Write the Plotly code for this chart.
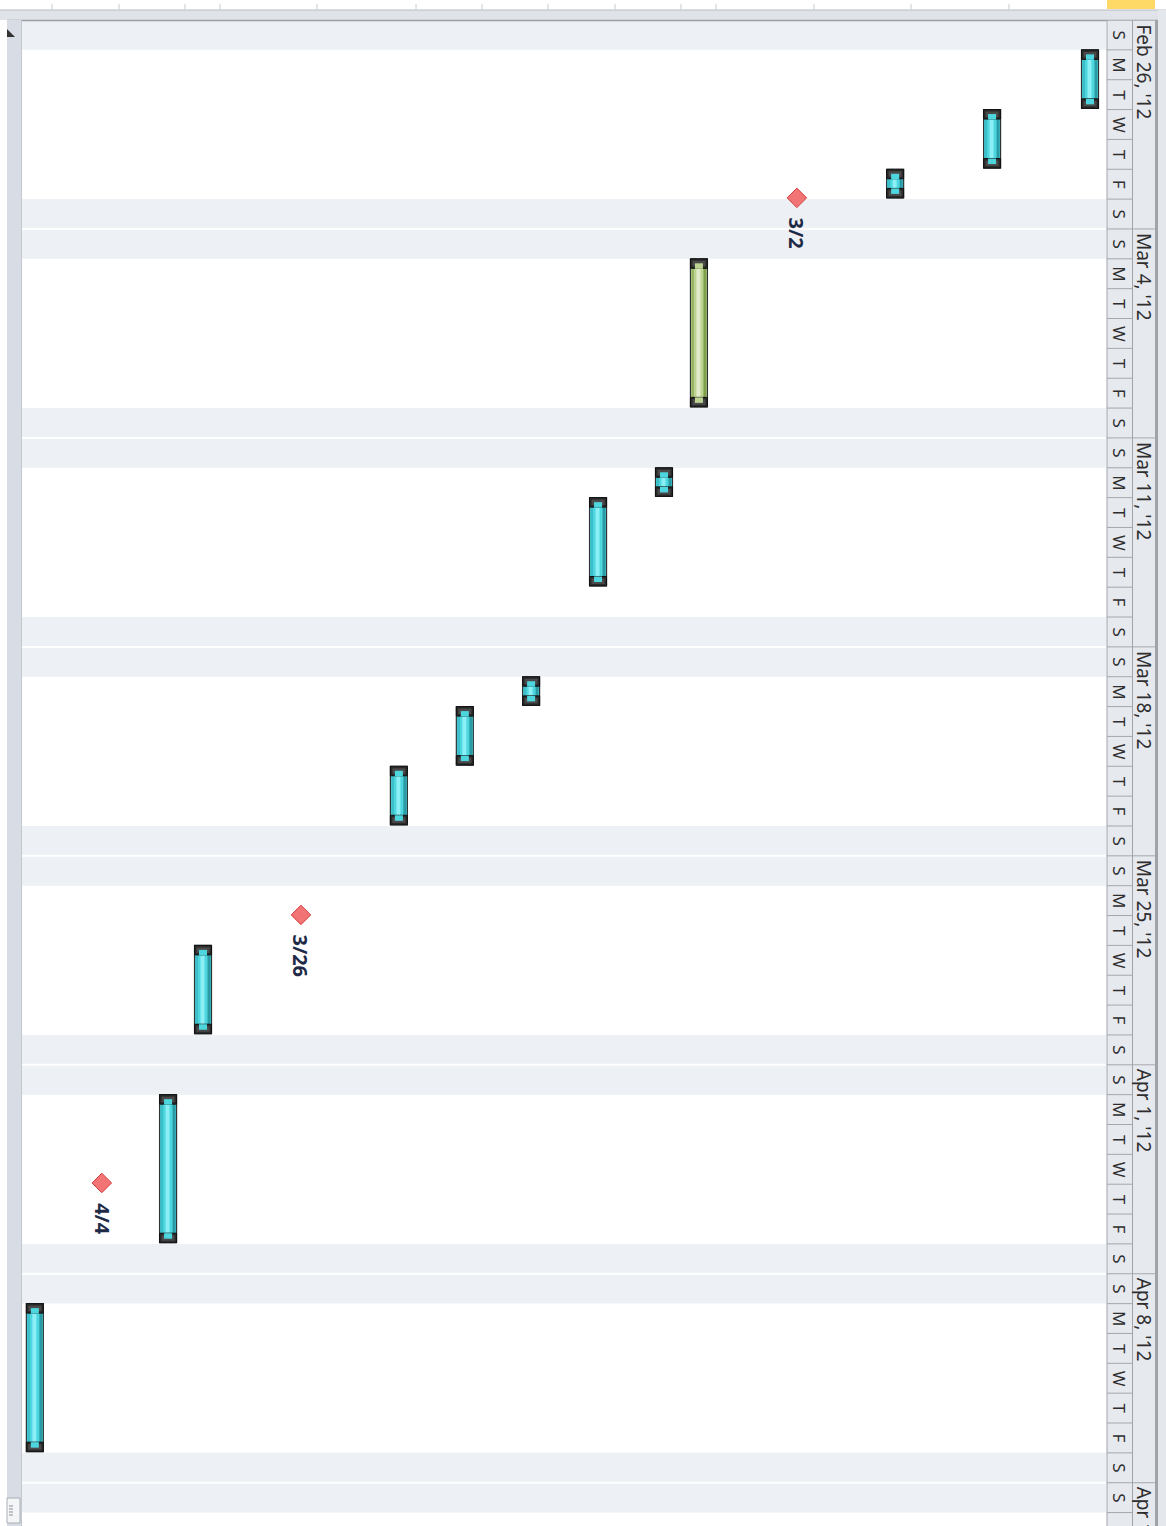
import pandas as pd
import plotly.graph_objects as go

# ---------------- data ----------------
# row positions (task row index along the rotated task axis)
TASK_ROWS = [0, 2.97, 5.91, 11.86, 12.92, 14.92, 16.95, 18.96, 20.96, 26.9, 27.96, 32.0]
TASK_START = ["2012-02-27", "2012-02-29", "2012-03-02", "2012-03-05", "2012-03-12", "2012-03-13",
              "2012-03-19", "2012-03-20", "2012-03-22", "2012-03-28", "2012-04-02", "2012-04-09"]
TASK_END = ["2012-02-29", "2012-03-02", "2012-03-03", "2012-03-10", "2012-03-13", "2012-03-16",
            "2012-03-20", "2012-03-22", "2012-03-24", "2012-03-31", "2012-04-07", "2012-04-14"]
TASK_KIND = ["task", "task", "task", "green", "task", "task",
             "task", "task", "task", "task", "task", "task"]

MS_ROWS = [8.89, 23.93, 29.97]
MS_DATES = ["2012-03-02 23:00", "2012-03-26 23:30", "2012-04-04 23:00"]
MS_LABELS = ["3/2", "3/26", "4/4"]

WEEK_STARTS = ["2012-02-26", "2012-03-04", "2012-03-11", "2012-03-18", "2012-03-25",
               "2012-04-01", "2012-04-08", "2012-04-15"]
WEEK_LABELS = ["Feb 26, '12", "Mar 4, '12", "Mar 11, '12", "Mar 18, '12", "Mar 25, '12",
               "Apr 1, '12", "Apr 8, '12", "Apr 15, '12"]
DAY_LETTERS = ["M", "T", "W", "T", "F", "S", "S"]  # indexed by pandas dayofweek

VIEW_START = "2012-02-26"
VIEW_END = "2012-04-16 10:48"

# ---------------- geometry / style ----------------
W, H = 1166, 1526
PLOT_L, PLOT_R, PLOT_T = 22, 1106, 20
ROW_PX = 32.97
DAY_PX = 29.85
MS_PER_DAY = 86400000.0


def X(px):
    return px / W


def Y(py):
    return 1 - py / H


def ms(px):
    return px / DAY_PX * MS_PER_DAY


def rw(px):
    return px / ROW_PX


def fmt(t):
    return t.strftime("%Y-%m-%d %H:%M:%S")


starts = pd.to_datetime(TASK_START)
ends = pd.to_datetime(TASK_END)
durs = [(e - s).total_seconds() * 1000.0 - ms(1.2) for s, e in zip(starts, ends)]
ends_v = [s + pd.Timedelta(milliseconds=d) for s, d in zip(starts, durs)]

BODY = {"task": "#4ed6df", "green": "#bcd391"}
DARK = {"task": "#2a9aa4", "green": "#7f9f4c"}
LIGHT = {"task": "#8bf0f5", "green": "#e1ebcb"}
RIGHT = {"task": "#3bbec8", "green": "#98b566"}

fig = go.Figure()

bar_w = rw(17)


def add_bar(x, base, y, width, offset, color, lw=0, lc="#2b2b2b"):
    fig.add_trace(go.Bar(
        x=x, y=y, base=base, width=width, offset=offset,
        marker=dict(color=color, line=dict(width=lw, color=lc)),
        orientation="v", showlegend=False, hoverinfo="skip"))


n = len(TASK_ROWS)
base_str = [fmt(s) for s in starts]
# body
add_bar(TASK_ROWS, base_str, durs, [bar_w] * n, [-bar_w / 2] * n,
        [BODY[k] for k in TASK_KIND], lw=1.2, lc="#2e3436")
# gradient stripes
add_bar(TASK_ROWS, base_str, durs, [rw(3)] * n, [rw(-7.5)] * n, [DARK[k] for k in TASK_KIND])
add_bar(TASK_ROWS, base_str, durs, [rw(4)] * n, [rw(-1.5)] * n, [LIGHT[k] for k in TASK_KIND])
add_bar(TASK_ROWS, base_str, durs, [rw(2.5)] * n, [rw(5)] * n, [RIGHT[k] for k in TASK_KIND])

# end caps
cap = ms(9.5)
add_bar(TASK_ROWS, base_str, [cap] * n, [bar_w] * n, [-bar_w / 2] * n, ["#2a2a2a"] * n, lw=1, lc="#111111")
add_bar(TASK_ROWS, [fmt(e - pd.Timedelta(milliseconds=cap)) for e in ends_v], [cap] * n,
        [bar_w] * n, [-bar_w / 2] * n, ["#2a2a2a"] * n, lw=1, lc="#111111")
# inner dark grey of caps
add_bar(TASK_ROWS, [fmt(s + pd.Timedelta(milliseconds=ms(2))) for s in starts],
        [ms(5.5)] * n, [rw(13)] * n, [rw(-6.5)] * n, ["#4a4a4a"] * n)
add_bar(TASK_ROWS, [fmt(e - pd.Timedelta(milliseconds=ms(7.5))) for e in ends_v],
        [ms(5.5)] * n, [rw(13)] * n, [rw(-6.5)] * n, ["#4a4a4a"] * n)
# notches showing bar colour
add_bar(TASK_ROWS, [fmt(s + pd.Timedelta(milliseconds=ms(4.5))) for s in starts],
        [ms(5.5)] * n, [rw(8)] * n, [rw(-4)] * n, [BODY[k] for k in TASK_KIND])
add_bar(TASK_ROWS, [fmt(e - pd.Timedelta(milliseconds=cap)) for e in ends_v],
        [ms(5.5)] * n, [rw(8)] * n, [rw(-4)] * n, [BODY[k] for k in TASK_KIND])

# milestones
fig.add_trace(go.Scatter(
    x=MS_ROWS, y=MS_DATES, mode="markers",
    marker=dict(symbol="diamond", size=15, color="#f27474", line=dict(color="#d23c3c", width=1)),
    showlegend=False, hoverinfo="skip"))

annotations = []
for r, d, lab in zip(MS_ROWS, MS_DATES, MS_LABELS):
    annotations.append(dict(x=r, y=d, xref="x", yref="y", text="<b>%s</b>" % lab, showarrow=False,
                            textangle=90, yanchor="top", yshift=-18,
                            font=dict(family="Open Sans", size=20, color="#1e2a46")))

shapes = []
# weekend shading
days = pd.date_range("2012-02-26", "2012-04-16", freq="D")
for d in days:
    if d.dayofweek in (5, 6):
        shapes.append(dict(type="rect", xref="paper", yref="y", x0=X(PLOT_L), x1=X(PLOT_R),
                           y0=d.strftime("%Y-%m-%d"), y1=(d + pd.Timedelta(days=1)).strftime("%Y-%m-%d"),
                           fillcolor="#edf0f5", line=dict(width=0), layer="below"))
    if d.dayofweek == 6:
        shapes.append(dict(type="line", xref="paper", yref="y", x0=X(PLOT_L), x1=X(PLOT_R),
                           y0=d.strftime("%Y-%m-%d"), y1=d.strftime("%Y-%m-%d"),
                           line=dict(color="#ffffff", width=2), layer="below"))

# top chrome
shapes.append(dict(type="rect", xref="paper", yref="paper", x0=0, x1=1, y0=Y(10), y1=Y(20),
                   fillcolor="#e0e3e8", line=dict(width=0)))
shapes.append(dict(type="line", xref="paper", yref="paper", x0=0, x1=1, y0=Y(10), y1=Y(10),
                   line=dict(color="#b7bbc1", width=1)))
shapes.append(dict(type="line", xref="paper", yref="paper", x0=X(7), x1=1, y0=Y(20.5), y1=Y(20.5),
                   line=dict(color="#9a9ea5", width=1.5)))
for t in [52, 119, 185, 220, 317, 416, 482, 548, 615, 681, 716, 814, 911, 1009]:
    shapes.append(dict(type="line", xref="paper", yref="paper", x0=X(t), x1=X(t), y0=Y(4), y1=Y(10),
                       line=dict(color="#c9ccd0", width=1)))
shapes.append(dict(type="rect", xref="paper", yref="paper", x0=X(1107), x1=X(1155), y0=Y(0), y1=Y(9),
                   fillcolor="#ffd966", line=dict(width=0)))

# left strip
shapes.append(dict(type="rect", xref="paper", yref="paper", x0=X(7), x1=X(21), y0=0, y1=Y(20),
                   fillcolor="#d8dde5", line=dict(width=0)))
shapes.append(dict(type="line", xref="paper", yref="paper", x0=X(21.5), x1=X(21.5), y0=0, y1=Y(20),
                   line=dict(color="#c3c8cf", width=1)))
shapes.append(dict(type="path", xref="paper", yref="paper",
                   path="M %f %f L %f %f L %f %f Z" % (X(7), Y(29), X(15), Y(37), X(7), Y(37)),
                   fillcolor="#333333", line=dict(width=0)))
shapes.append(dict(type="rect", xref="paper", yref="paper", x0=X(7), x1=X(20), y0=Y(1523), y1=Y(1498),
                   fillcolor="#f4f5f7", line=dict(color="#a8adb4", width=1)))
for yy in [1506, 1509, 1512, 1515]:
    shapes.append(dict(type="line", xref="paper", yref="paper", x0=X(9), x1=X(13), y0=Y(yy), y1=Y(yy),
                       line=dict(color="#8a8f96", width=1)))

# timescale header
shapes.append(dict(type="rect", xref="paper", yref="paper", x0=X(1107), x1=X(1155), y0=0, y1=Y(20.5),
                   fillcolor="#e6e9ee", line=dict(width=0)))
shapes.append(dict(type="rect", xref="paper", yref="paper", x0=X(1158), x1=1, y0=0, y1=Y(10),
                   fillcolor="#e4e7ec", line=dict(width=0)))
for d in days:
    shapes.append(dict(type="line", xref="paper", yref="y", x0=X(1107), x1=X(1132),
                       y0=d.strftime("%Y-%m-%d"), y1=d.strftime("%Y-%m-%d"),
                       line=dict(color="#a4a8ae", width=1)))
for ws in WEEK_STARTS:
    shapes.append(dict(type="line", xref="paper", yref="y", x0=X(1132), x1=X(1155),
                       y0=ws, y1=ws, line=dict(color="#a4a8ae", width=1)))
for xx, wdt in [(1107, 1), (1132.5, 1), (1156.5, 3)]:
    shapes.append(dict(type="line", xref="paper", yref="paper", x0=X(xx), x1=X(xx), y0=0, y1=Y(20),
                       line=dict(color="#a0a4aa", width=wdt)))

for d in days:
    mid = fmt(d + pd.Timedelta(hours=12))
    annotations.append(dict(x=X(1119.5), y=mid, xref="paper", yref="y", text=DAY_LETTERS[d.dayofweek],
                            showarrow=False, textangle=90, xanchor="center", yanchor="middle",
                            font=dict(family="Noto Sans", size=17, color="#2e2e2e")))
for ws, lab in zip(WEEK_STARTS, WEEK_LABELS):
    annotations.append(dict(x=X(1144), y=ws, xref="paper", yref="y", text=lab,
                            showarrow=False, textangle=90, xanchor="center", yanchor="top", yshift=-2,
                            font=dict(family="Noto Sans", size=19, color="#2e2e2e")))

fig.update_layout(
    width=W, height=H,
    margin=dict(l=0, r=0, t=0, b=0),
    paper_bgcolor="#ffffff", plot_bgcolor="#ffffff",
    barmode="overlay",
    xaxis=dict(domain=[X(PLOT_L), X(PLOT_R)], range=[32.39, -0.485], showgrid=False, zeroline=False,
               showticklabels=False, ticks="", fixedrange=True),
    yaxis=dict(domain=[0, Y(PLOT_T)], type="date", range=[VIEW_END, VIEW_START], showgrid=False,
               zeroline=False, showticklabels=False, ticks="", fixedrange=True),
    shapes=shapes,
    annotations=annotations,
)

fig.write_html("out.html", config={"displayModeBar": False},
               post_script="document.body.style.margin='0';document.body.style.overflow='hidden';")
